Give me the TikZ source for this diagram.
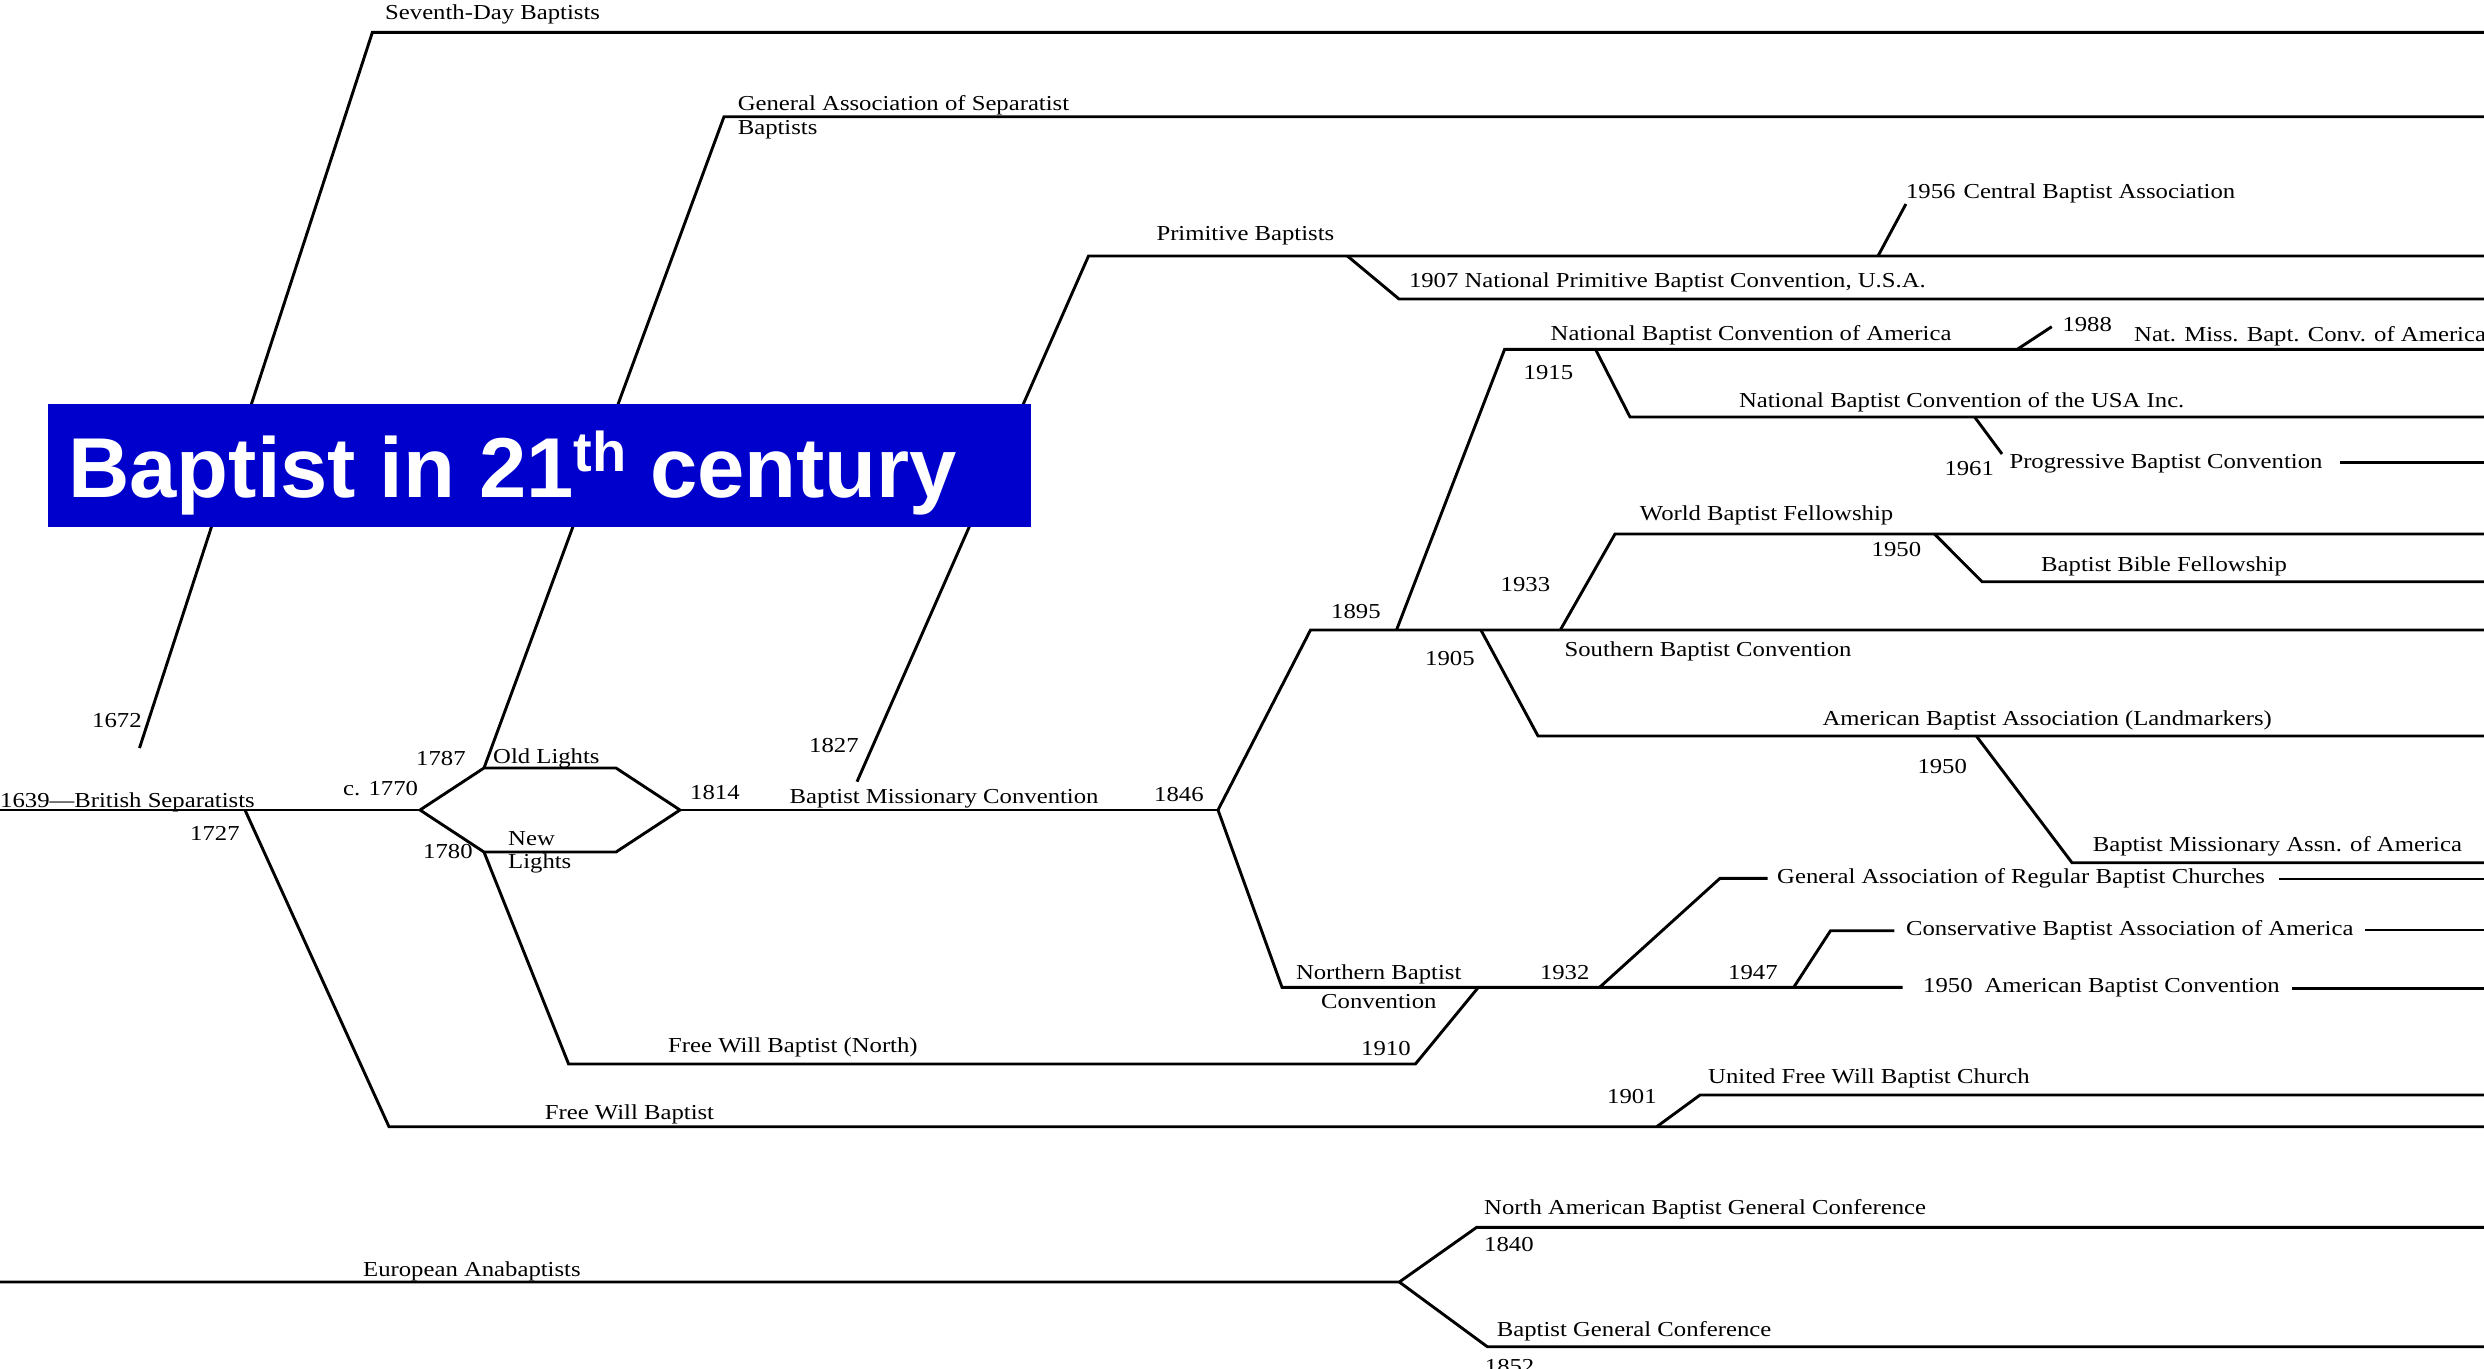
\documentclass[tikz,border=0pt]{standalone}
\usepackage{fontspec}
\setmainfont{Liberation Serif}[FakeStretch=1.16]
\newfontfamily\titlefont{Liberation Sans}
\definecolor{titleblue}{RGB}{0,0,204}
\begin{document}
\begin{tikzpicture}[x=1pt,y=-1pt,
  br/.style={line width=2.9pt,black},
  lbl/.style={anchor=base west,inner sep=0pt,font=\fontsize{21.3}{24}\selectfont},
  ttl/.style={anchor=base west,inner sep=0pt,text=white,font=\titlefont\bfseries\fontsize{85}{90}\selectfont}]
\useasboundingbox (0,0) rectangle (2484,1368);
% ---- coordinates
\coordinate (L0) at (0,810);
\coordinate (hexL) at (420,810);
\coordinate (hexUL) at (484,768);
\coordinate (hexUR) at (616,768);
\coordinate (hexR) at (680,810);
\coordinate (hexLR) at (616,852);
\coordinate (hexLL) at (484,852);
\coordinate (f1846) at (1218,810);
\coordinate (sdA) at (139.5,748);
\coordinate (sdB) at (372.4,32.3);
\coordinate (sdC) at (2484,32.3);
\coordinate (gaB) at (724,116.7);
\coordinate (gaC) at (2484,116.7);
\coordinate (fwA) at (245,810);
\coordinate (fwB) at (389,1126.7);
\coordinate (fwC) at (2484,1126.7);
\coordinate (ufA) at (1656.7,1126.7);
\coordinate (ufB) at (1700,1095);
\coordinate (ufC) at (2484,1095);
\coordinate (nlB) at (568.6,1064);
\coordinate (nlC) at (1415.4,1064);
\coordinate (nlD) at (1478.4,987.3);
\coordinate (pbA) at (857,781.7);
\coordinate (pbB) at (1088.5,256);
\coordinate (pbC) at (2484,256);
\coordinate (npA) at (1347.4,256);
\coordinate (npB) at (1399,299);
\coordinate (npC) at (2484,299);
\coordinate (cbA) at (1878,256);
\coordinate (cbB) at (1905.9,204);
\coordinate (sbB) at (1310.5,630);
\coordinate (sbC) at (2484,630);
\coordinate (naA) at (1396.5,630);
\coordinate (naB) at (1504.6,349.3);
\coordinate (naC) at (2484,349.3);
\coordinate (nmA) at (2017.3,349.3);
\coordinate (nmB) at (2051.7,326.7);
\coordinate (nuA) at (1595.5,349.3);
\coordinate (nuB) at (1630,417);
\coordinate (nuC) at (2484,417);
\coordinate (pgA) at (1974.6,417);
\coordinate (pgB) at (2002,454);
\coordinate (pgC) at (2340,462.7);
\coordinate (pgD) at (2484,462.7);
\coordinate (wbA) at (1560.3,630);
\coordinate (wbB) at (1615,534);
\coordinate (wbC) at (2484,534);
\coordinate (bbA) at (1934.5,534);
\coordinate (bbB) at (1982,581.7);
\coordinate (bbC) at (2484,581.7);
\coordinate (abA) at (1480.9,630);
\coordinate (abB) at (1538,736);
\coordinate (abC) at (2484,736);
\coordinate (bmA) at (1976.3,736);
\coordinate (bmB) at (2072,862.7);
\coordinate (bmC) at (2484,862.7);
\coordinate (noB) at (1282,987.3);
\coordinate (noC) at (1902.6,987.3);
\coordinate (noD) at (2291.6,988.5);
\coordinate (noE) at (2484,988.5);
\coordinate (grA) at (1599.6,987.3);
\coordinate (grB) at (1720,878.3);
\coordinate (grC) at (1767.5,878.3);
\coordinate (grD) at (2279,879);
\coordinate (grE) at (2484,879);
\coordinate (csA) at (1793.7,987.3);
\coordinate (csB) at (1830.5,930.7);
\coordinate (csC) at (1894.4,930.7);
\coordinate (csD) at (2365,930);
\coordinate (csE) at (2484,930);
\coordinate (euA) at (0,1282);
\coordinate (euB) at (1399.3,1282);
\coordinate (euU) at (1476.7,1227.3);
\coordinate (euUC) at (2484,1227.3);
\coordinate (euD) at (1487.3,1346.7);
\coordinate (euDC) at (2484,1346.7);
% ---- branches
\draw[br] (L0) -- (hexL);
\draw[br] (hexL) -- (hexUL) -- (hexUR) -- (hexR) -- (hexLR) -- (hexLL) -- cycle;
\draw[br] (hexR) -- (f1846);
\draw[br] (sdA) -- (sdB) -- (sdC);
\draw[br] (hexUL) -- (gaB) -- (gaC);
\draw[br] (fwA) -- (fwB) -- (fwC);
\draw[br] (ufA) -- (ufB) -- (ufC);
\draw[br] (hexLL) -- (nlB) -- (nlC) -- (nlD);
\draw[br] (pbA) -- (pbB) -- (pbC);
\draw[br] (npA) -- (npB) -- (npC);
\draw[br] (cbA) -- (cbB);
\draw[br] (f1846) -- (sbB) -- (sbC);
\draw[br] (naA) -- (naB) -- (naC);
\draw[br] (nmA) -- (nmB);
\draw[br] (nuA) -- (nuB) -- (nuC);
\draw[br] (pgA) -- (pgB);
\draw[br] (pgC) -- (pgD);
\draw[br] (wbA) -- (wbB) -- (wbC);
\draw[br] (bbA) -- (bbB) -- (bbC);
\draw[br] (abA) -- (abB) -- (abC);
\draw[br] (bmA) -- (bmB) -- (bmC);
\draw[br] (f1846) -- (noB) -- (noC);
\draw[br] (noD) -- (noE);
\draw[br] (grA) -- (grB) -- (grC);
\draw[br] (grD) -- (grE);
\draw[br] (csA) -- (csB) -- (csC);
\draw[br] (csD) -- (csE);
\draw[br] (euA) -- (euB) -- (euU) -- (euUC);
\draw[br] (euB) -- (euD) -- (euDC);
% ---- labels
\node[lbl] (t01) at (0,807) {1639—British Separatists};
\node[lbl] (t02) at (92,727) {1672};
\node[lbl] (t03) at (385,19) {Seventh-Day Baptists};
\node[lbl] (t04) at (737.6,110) {General Association of Separatist};
\node[lbl] (t05) at (737.6,134.3) {Baptists};
\node[lbl] (t06) at (190,840) {1727};
\node[lbl] (t07) at (343,795) {c. 1770};
\node[lbl] (t08) at (416,765) {1787};
\node[lbl] (t09) at (493,763) {Old Lights};
\node[lbl] (t10) at (508,845) {New};
\node[lbl] (t11) at (508,868) {Lights};
\node[lbl] (t12) at (423,858) {1780};
\node[lbl] (t13) at (690,799) {1814};
\node[lbl] (t14) at (809,752.7) {1827};
\node[lbl] (t15) at (789.5,803) {Baptist Missionary Convention};
\node[lbl] (t16) at (1154,801) {1846};
\node[lbl] (t17) at (1156.3,240.7) {Primitive Baptists};
\node[lbl] (t18) at (1408.8,287.3) {1907 National Primitive Baptist Convention, U.S.A.};
\node[lbl] (t19) at (1905.9,198.3) {1956\hspace{8pt}Central Baptist Association};
\node[lbl] (t20) at (1550.5,340) {National Baptist Convention of America};
\node[lbl] (t21) at (1523.5,379.3) {1915};
\node[lbl] (t22) at (2062.3,331.7) {1988};
\node[lbl] (t23) at (2134,341.7) {Nat. Miss. Bapt. Conv. of America};
\node[lbl] (t24) at (1738.8,407.3) {National Baptist Convention of the USA Inc.};
\node[lbl] (t25) at (1944.3,475) {1961};
\node[lbl] (t26) at (2009.3,468.3) {Progressive Baptist Convention};
\node[lbl] (t27) at (1639.7,520) {World Baptist Fellowship};
\node[lbl] (t28) at (1871.5,556.7) {1950};
\node[lbl] (t29) at (2041,571.7) {Baptist Bible Fellowship};
\node[lbl] (t30) at (1500.5,591.7) {1933};
\node[lbl] (t31) at (1331,618.3) {1895};
\node[lbl] (t32) at (1425,665) {1905};
\node[lbl] (t33) at (1564.4,656.7) {Southern Baptist Convention};
\node[lbl] (t34) at (1822.3,725) {American Baptist Association (Landmarkers)};
\node[lbl] (t35) at (1917.3,773.3) {1950};
\node[lbl] (t36) at (2092.6,851.7) {Baptist Missionary Assn. of America};
\node[lbl] (t37) at (1777,883.3) {General Association of Regular Baptist Churches};
\node[lbl] (t38) at (1905.9,935) {Conservative Baptist Association of America};
\node[lbl] (t39) at (1295.8,979.3) {Northern Baptist};
\node[lbl] (t40) at (1321,1008.3) {Convention};
\node[lbl] (t41) at (1539.8,979.3) {1932};
\node[lbl] (t42) at (1728,979.3) {1947};
\node[lbl] (t43) at (1923,992.3) {1950\hspace{12pt}American Baptist Convention};
\node[lbl] (t44) at (1361,1055) {1910};
\node[lbl] (t45) at (668,1052.7) {Free Will Baptist (North)};
\node[lbl] (t46) at (544.7,1119.3) {Free Will Baptist};
\node[lbl] (t47) at (1607,1103.3) {1901};
\node[lbl] (t48) at (1708,1083.3) {United Free Will Baptist Church};
\node[lbl] (t49) at (363,1276.7) {European Anabaptists};
\node[lbl] (t50) at (1484,1214.3) {North American Baptist General Conference};
\node[lbl] (t51) at (1484,1251.7) {1840};
\node[lbl] (t52) at (1496.7,1336.7) {Baptist General Conference};
\node[lbl] (t53) at (1484.7,1373) {1852};
% ---- title
\fill[titleblue] (48,404) rectangle (1031,527);
\node[ttl] (title) at (68,497) {Baptist in 21\raisebox{26pt}{\fontsize{56}{56}\selectfont th} century};
\end{tikzpicture}
\end{document}
